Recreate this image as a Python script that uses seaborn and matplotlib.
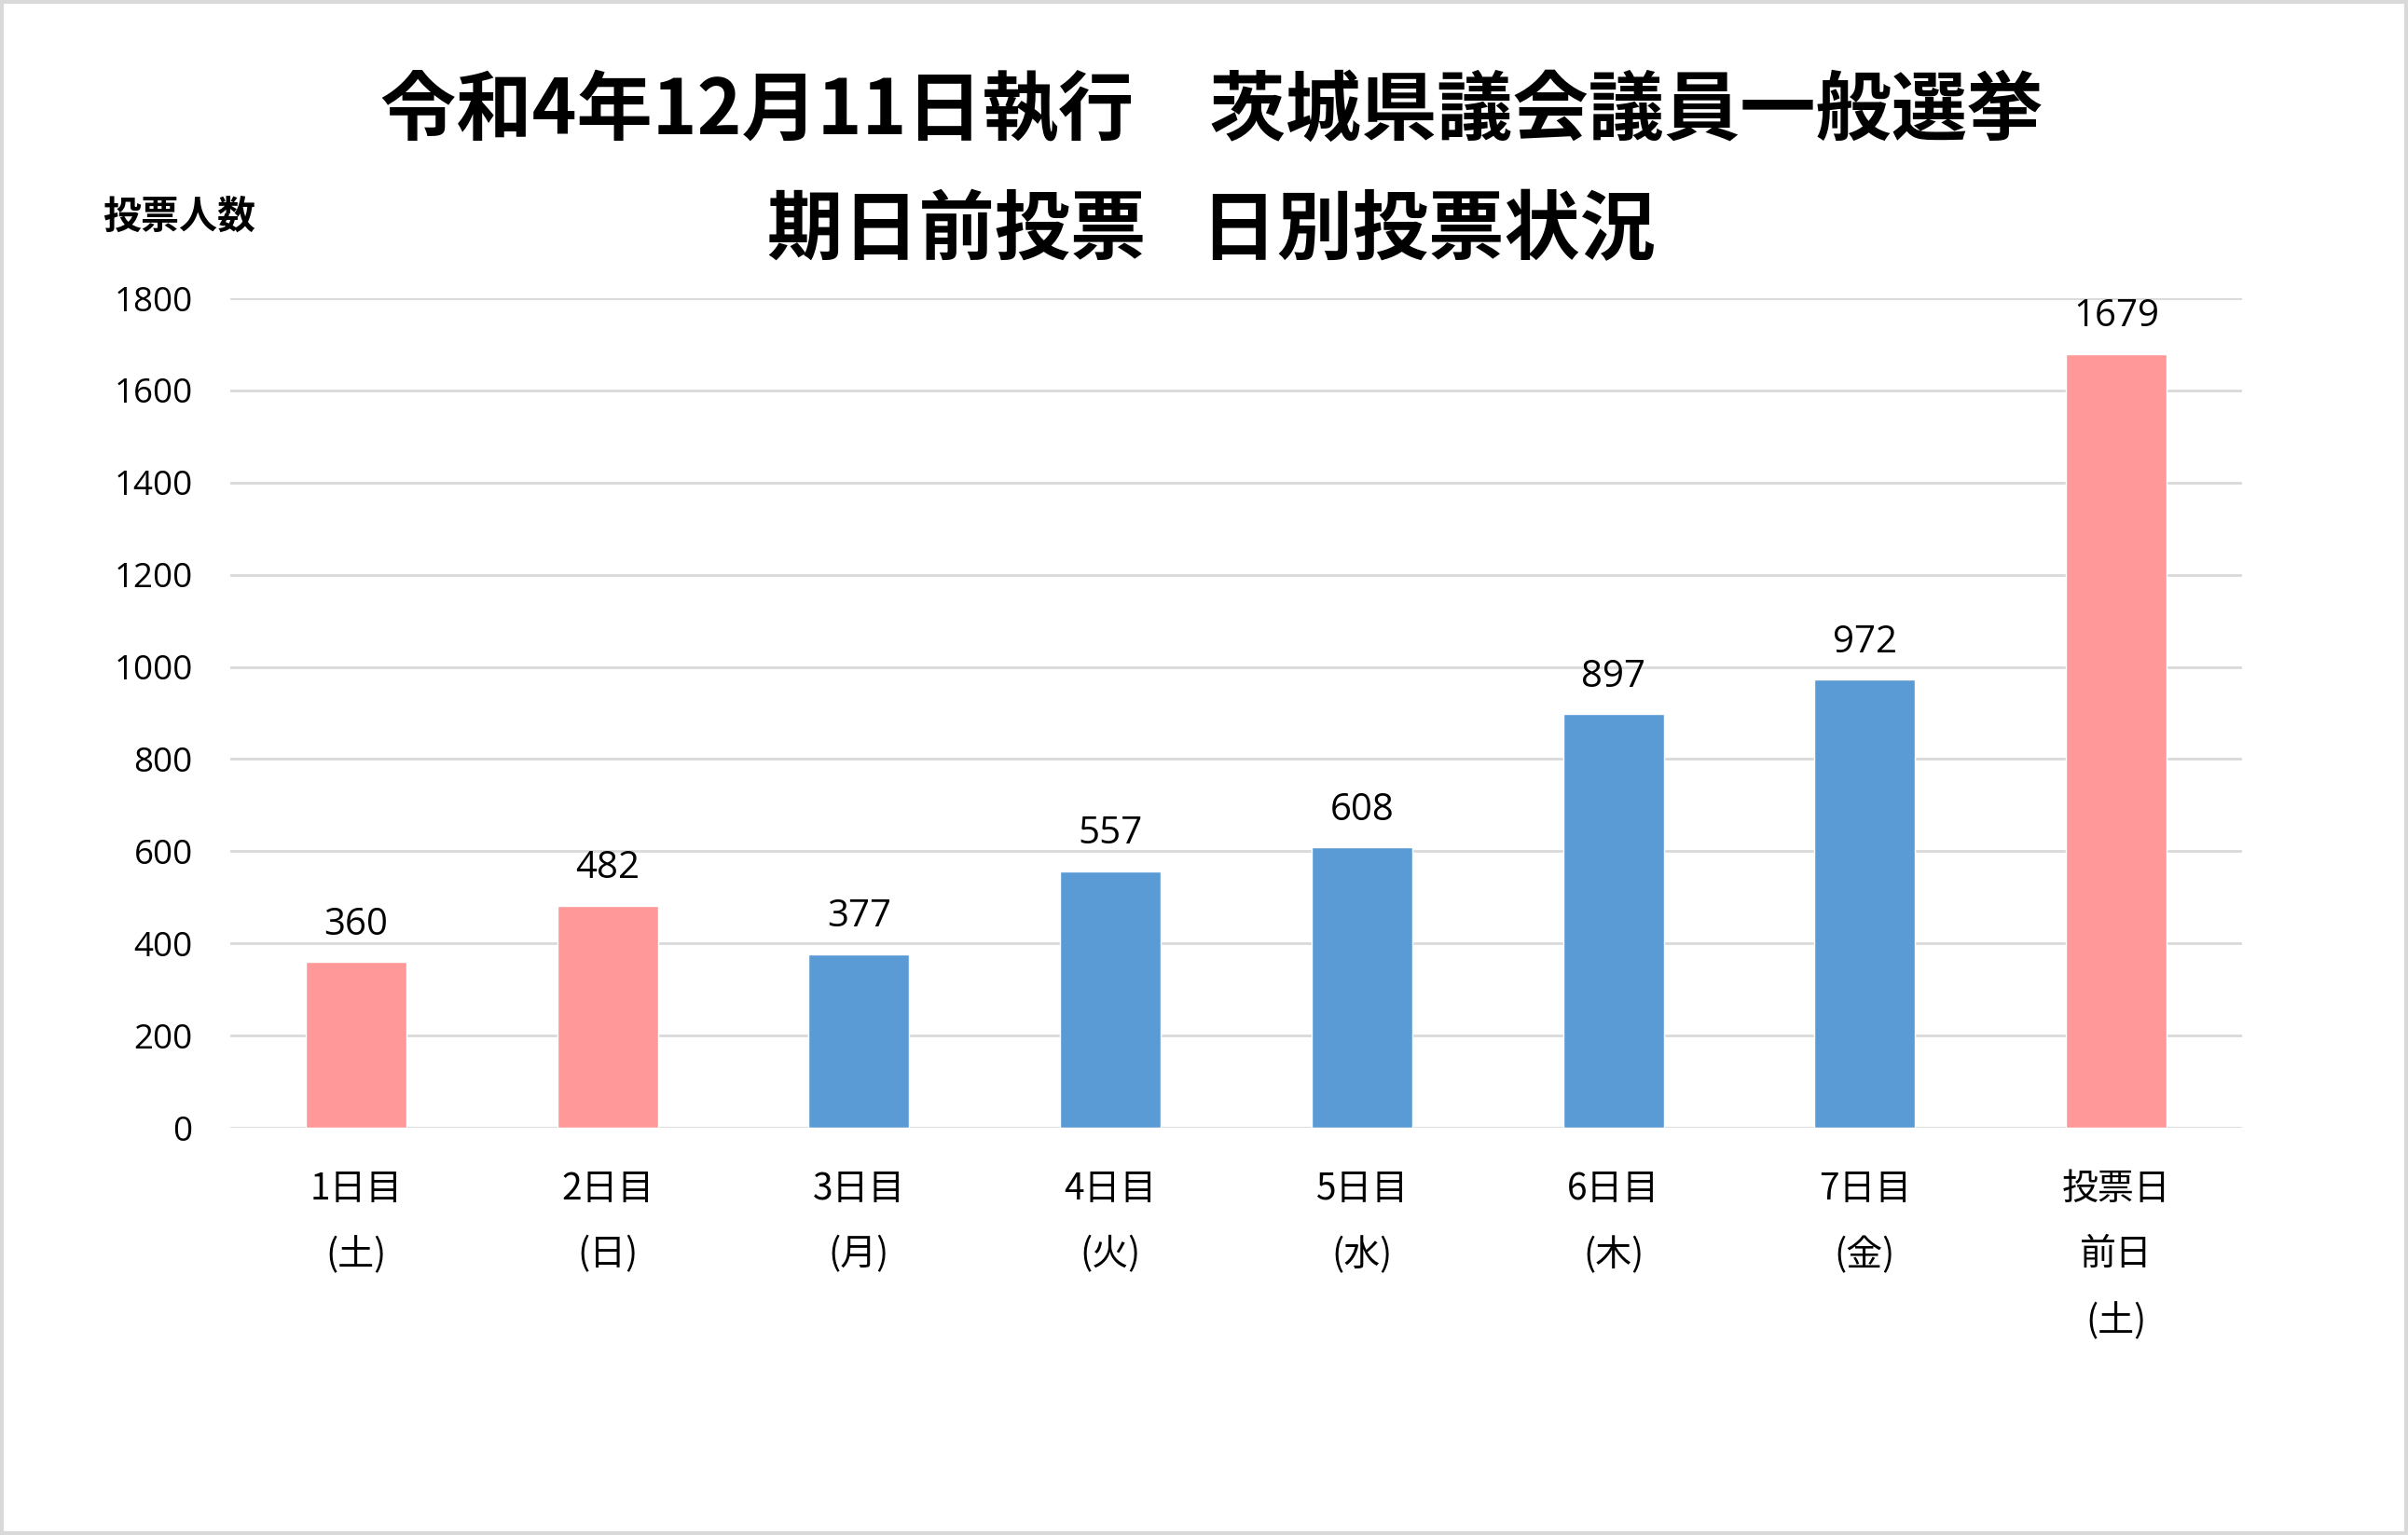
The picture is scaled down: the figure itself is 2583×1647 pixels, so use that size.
import matplotlib
matplotlib.use("Agg")
import matplotlib.pyplot as plt
import seaborn as sns
import pandas as pd
from matplotlib.patches import Rectangle

categories = ["1日目\n(土)", "2日目\n(日)", "3日目\n(月)", "4日目\n(火)",
              "5日目\n(水)", "6日目\n(木)", "7日目\n(金)", "投票日\n前日\n(土)"]
values = [360, 482, 377, 557, 608, 897, 972, 1679]
bar_colors = ["#FF9999", "#FF9999", "#5B9BD5", "#5B9BD5",
              "#5B9BD5", "#5B9BD5", "#5B9BD5", "#FF9999"]
title_line1 = "令和4年12月11日執行\u3000茨城県議会議員一般選挙"
title_line2 = "期日前投票\u2002 日別投票状況"
y_label = "投票人数"
y_ticks = [0, 200, 400, 600, 800, 1000, 1200, 1400, 1600, 1800]

sns.set_theme(style="white")
plt.rcParams['font.family'] = ['Noto Sans CJK JP', 'DejaVu Sans']

W, H = 2583, 1647
fig = plt.figure(figsize=(W / 100, H / 100), dpi=100)
fig.patch.set_facecolor("white")
ax = fig.add_axes([247 / W, 1 - 1210 / H, (2405 - 247) / W, (1210 - 320) / H])

df = pd.DataFrame({"cat": categories, "val": values})
sns.barplot(data=df, x="cat", y="val", hue="cat", palette=bar_colors,
            width=0.4, legend=False, ax=ax, saturation=1)

ax.set_ylim(0, 1800)
ax.set_yticks(y_ticks)
ax.set_yticklabels([str(t) for t in y_ticks], fontfamily="Open Sans",
                   fontsize=26.5, color="#000000")
ax.yaxis.grid(True, color="#D9D9D9", linewidth=2.0)
ax.set_axisbelow(True)
for s in ax.spines.values():
    s.set_visible(False)
ax.tick_params(axis="y", length=0, pad=29)
ax.tick_params(axis="x", length=0, pad=33)
ax.set_xlabel("")
ax.set_ylabel("")
for lbl in ax.get_xticklabels():
    lbl.set_fontsize(28)
    lbl.set_linespacing(1.98)
    lbl.set_color("#000000")
    lbl.set_verticalalignment("top")

for cont in ax.containers:
    ax.bar_label(cont, fmt="%d", padding=14, fontsize=29,
                 fontfamily="Open Sans", color="#000000")

fig.text(0.503, 1 - 120 / H, title_line1, ha="center", va="center",
         fontsize=58.5, fontweight="bold", color="#000000")
fig.text(0.503, 1 - 248 / H, title_line2, ha="center", va="center",
         fontsize=58.5, fontweight="bold", color="#000000")
fig.text(110 / W, 1 - 233 / H, y_label, ha="left", va="center",
         fontsize=29.5, fontweight="bold", color="#000000")

fig.patches.append(Rectangle((0.0008, 0.0012), 0.9984, 0.9976, transform=fig.transFigure,
                             fill=False, edgecolor="#D9D9D9", linewidth=3))

fig.savefig("out.png", dpi=100, facecolor="white")
